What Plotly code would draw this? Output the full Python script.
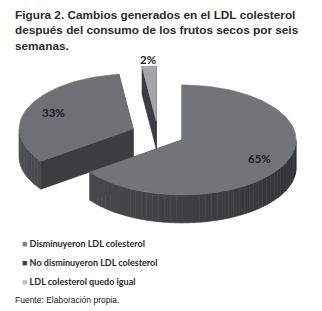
import numpy as np
import plotly.graph_objects as go

# ---- data ----
categories = ["Disminuyeron LDL colesterol", "No disminuyeron LDL colesterol", "LDL colesterol quedo igual"]
values = [65, 33, 2]
pct_text = ["65%", "33%", "2%"]
title_lines = ["Figura 2. Cambios generados en el LDL colesterol",
               "después del consumo de los frutos secos por seis",
               "semanas."]
source_text = "Fuente: Elaboración propia."

# ---- style ----
W, H = 322, 311
CX, CY = 158, 134          # pie centre (pixel space)
RX, RY = 114, 55           # ellipse radii
DEPTH = 28                 # thickness
PULL = 0.237               # explosion (fraction of radius)
top_colors = ["#717478", "#6d7074", "#a4a6a9"]
face_color = "#3c3d40"
legend_colors = ["#7f7f7f", "#3f3f3f", "#c0c0c0"]

fig = go.Figure()


def pt(cx, cy, a, r=1.0):
    t = np.radians(a)
    return cx + r * RX * np.sin(t), cy - r * RY * np.cos(t)


def poly(xs, ys, color):
    fig.add_trace(go.Scatter(x=list(xs) + [xs[0]], y=list(ys) + [ys[0]], mode="lines",
                             fill="toself", fillcolor=color,
                             line=dict(color=color, width=0.6),
                             hoverinfo="skip", showlegend=False))


total = float(sum(values))
slices = []
acc = 0.0
for i, v in enumerate(values):
    a0 = acc / total * 360
    acc += v
    a1 = acc / total * 360
    mid = (a0 + a1) / 2
    px, py = pt(CX, CY, mid, PULL)
    slices.append((i, a0, a1, mid, px, py))

# draw back to front
for i, a0, a1, mid, px, py in sorted(slices, key=lambda s: s[5]):
    # radial faces
    for a in (a0, a1):
        rx_, ry_ = pt(px, py, a)
        poly([px, rx_, rx_, px], [py, ry_, ry_ + DEPTH, py + DEPTH], face_color)
    # rim side (front half only), shaded in segments
    s0, s1 = max(a0, 90), min(a1, 270)
    if s1 > s0:
        n = max(2, int((s1 - s0) / 3))
        edges = np.linspace(s0, s1, n + 1)
        for k in range(n):
            e0, e1 = edges[k], edges[k + 1]
            arc = np.linspace(e0, e1, 4)
            xs = [pt(px, py, a)[0] for a in arc]
            ys = [pt(px, py, a)[1] for a in arc]
            m = (e0 + e1) / 2
            val = int(48 + 30 * (m - 90) / 180)
            col = "rgb(%d,%d,%d)" % (val, val + 2, val + 5)
            poly(xs + xs[::-1], ys + [y + DEPTH for y in ys[::-1]], col)
    # top surface
    arc = np.linspace(a0, a1, max(3, int((a1 - a0) / 2)))
    xs = [px] + [pt(px, py, a)[0] for a in arc]
    ys = [py] + [pt(px, py, a)[1] for a in arc]
    poly(xs, ys, top_colors[i])

# percentage labels
for i, a0, a1, mid, px, py in slices:
    f = 0.76 if values[i] / total > 0.05 else 1.12
    lx, ly = pt(px, py, mid, f)
    fig.add_annotation(x=lx, y=ly, text=pct_text[i], showarrow=False,
                       font=dict(family="Lato", size=11.5, color="#1c1c1c", weight="bold"))

# title
fig.add_annotation(x=13, y=6, xanchor="left", yanchor="top", align="left",
                   text="<br>".join(title_lines), showarrow=False,
                   font=dict(family="Liberation Sans", size=11.8, color="#2a2a2a", weight="bold"))

# legend (as text rows with coloured squares)
for k, (name, col) in enumerate(zip(categories, legend_colors)):
    fig.add_annotation(x=20, y=243 + 19 * k, xanchor="left", yanchor="middle",
                       text='<span style="color:%s">■</span> %s' % (col, name), showarrow=False,
                       font=dict(family="Lato", size=9, color="#2a2a2a", weight="bold"))

# source
fig.add_annotation(x=13, y=300, xanchor="left", yanchor="middle", text=source_text,
                   showarrow=False, font=dict(family="Liberation Sans", size=8.5, color="#222222"))

fig.update_layout(width=W, height=H, autosize=False, margin=dict(l=0, r=0, t=0, b=0),
                  paper_bgcolor="white", plot_bgcolor="white", showlegend=False,
                  xaxis=dict(range=[0, W], visible=False, fixedrange=True),
                  yaxis=dict(range=[H, 0], visible=False, fixedrange=True))

fig.write_html("out.html", config={"displayModeBar": False, "staticPlot": True},
               post_script="document.body.style.margin='0';document.body.style.overflow='hidden';")
